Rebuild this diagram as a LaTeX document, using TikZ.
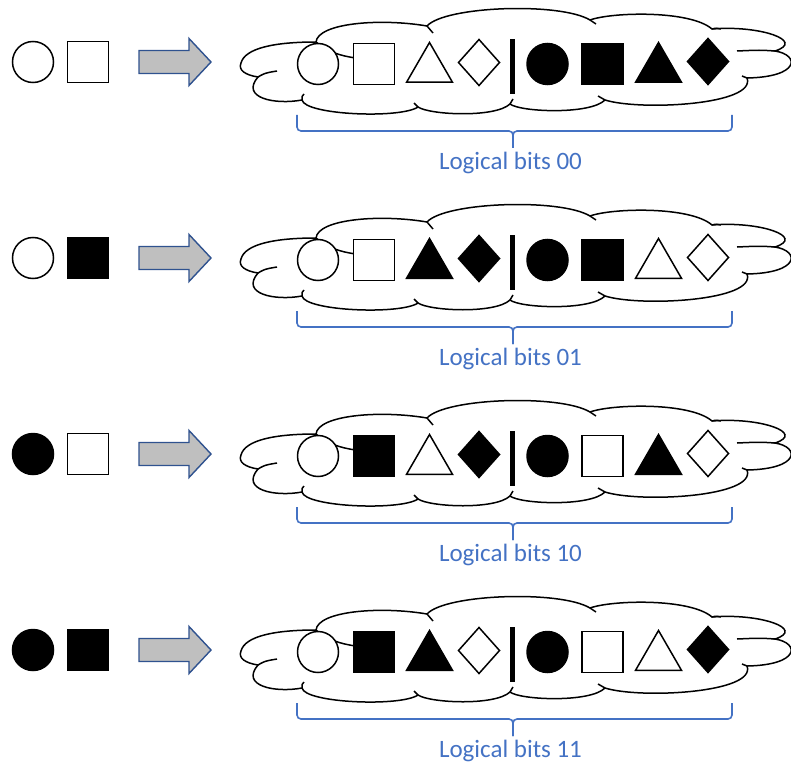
\documentclass[tikz,border=0pt]{standalone}
\usepackage{fontspec}
\setmainfont{Carlito}
\usetikzlibrary{shapes.geometric}

\definecolor{bitblue}{HTML}{4472C4}
\definecolor{arrowgray}{HTML}{BFBFBF}
\definecolor{arrowrim}{HTML}{2F528F}

\tikzset{
    mark shape/.style={draw=black, line width=1.5pt, inner sep=0pt, outer sep=0pt},
    ring/.style={mark shape, circle, minimum size=41pt},
    box/.style={mark shape, rectangle, minimum size=41pt},
    tri/.style={mark shape, regular polygon, regular polygon sides=3, minimum size=53pt},
    kite/.style={mark shape, diamond, minimum width=41pt, minimum height=46pt},
    puff line/.style={draw=black, line width=1.5pt},
    bits brace/.style={draw=bitblue, line width=1.6pt, rounded corners=4pt},
    bits label/.style={text=bitblue, font=\fontsize{25}{30}\selectfont, anchor=base},
    block arrow/.style={draw=arrowrim, fill=arrowgray, line width=1.4pt, line join=miter}
}

\begin{document}
\begin{tikzpicture}[x=1pt, y=-1pt]
    \useasboundingbox (0,0) rectangle (791,762);

    \foreach \n/\y/\bits/\fa/\fb/\fs/\ft/\fd/\gs/\gt/\gd in {
        1/63/00/white/white/white/white/white/black/black/black,
        2/259/01/white/black/white/black/black/black/white/white,
        3/455/10/black/white/black/white/black/white/black/white,
        4/651/11/black/black/black/black/white/white/white/black}
    {
    \begin{scope}[shift={(0,\y)}]
        % input pair
        \node[ring, fill=\fa] (in\n a) at (33,-1) {};
        \node[box, fill=\fb] (in\n b) at (88,-1) {};
        \draw[block arrow] (139,-12.5) -- (189,-12.5) -- (189,-24.5) -- (211,-1)
            -- (189,22.5) -- (189,10.5) -- (139,10.5) -- cycle;

        % cloud
        \path[puff line, fill=white] (241,0)
            .. controls (245,-15) and (275,-21) .. (316,-21)
            .. controls (318,-40) and (380,-45) .. (427,-37)
            .. controls (445,-57) and (560,-61) .. (590,-43)
            .. controls (612,-51) and (690,-53) .. (712,-34)
            .. controls (760,-38) and (806,-22) .. (775,-12)
            .. controls (800,-8) and (800,14) .. (747,15)
            .. controls (757,42) and (640,48) .. (605,37)
            .. controls (590,52) and (520,49) .. (510,41)
            .. controls (495,55) and (430,52) .. (418,44)
            .. controls (400,56) and (305,52) .. (302,37)
            .. controls (275,42) and (240,35) .. (258,14)
            .. controls (245,12) and (238,7) .. (241,0) -- cycle;
        \draw[puff line] (258,14) .. controls (265,10) .. (277,8);
        \draw[puff line] (316,-21) .. controls (326,-12) and (340,-7) .. (356,-5);
        \draw[puff line] (427,-37) .. controls (430,-33) .. (433,-30);
        \draw[puff line] (590,-43) .. controls (593,-41) .. (596,-39);
        \draw[puff line] (712,-34) .. controls (716,-35) .. (721,-34);
        \draw[puff line] (775,-12) .. controls (760,-13) .. (737,-12);
        \draw[puff line] (747,15) .. controls (745,14) .. (742,13);
        \draw[puff line] (605,37) .. controls (601,35) .. (598,33);
        \draw[puff line] (510,41) .. controls (511,38) .. (513,36);
        \draw[puff line] (418,44) .. controls (416,42) .. (414,40);
        \draw[puff line] (302,37) .. controls (302,33) .. (304,31);

        % shapes in the cloud
        \node[ring, fill=white] (p\n a) at (318,1) {};
        \node[box, fill=\fs] (p\n b) at (374,1) {};
        \node[tri, fill=\ft] (p\n c) at (429.5,6) {};
        \node[kite, fill=\fd] (p\n d) at (479,-0.5) {};
        \fill[black] (509.5,-24) rectangle (514.5,31);
        \node[ring, fill=black] (q\n a) at (547.5,1) {};
        \node[box, fill=\gs] (q\n b) at (602.5,1) {};
        \node[tri, fill=\gt] (q\n c) at (658.5,6) {};
        \node[kite, fill=\gd] (q\n d) at (708,-1.5) {};

        % brace and label
        \draw[bits brace] (297,52) -- (297,68) -- (513,68) -- (513,85);
        \draw[bits brace] (732,52) -- (732,68) -- (513,68) -- (513,85);
        \node[bits label] (lab\n) at (510.5,106) {Logical bits \bits};
    \end{scope}
    }
\end{tikzpicture}
\end{document}
